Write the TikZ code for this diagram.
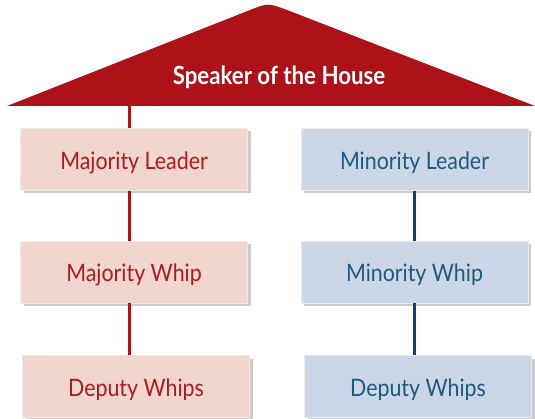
\documentclass[tikz,border=0pt]{standalone}
\usepackage{fontspec}
\setmainfont[FakeStretch=0.89]{Lato}
\usetikzlibrary{shadows}
\definecolor{roofred}{HTML}{AC1218}
\definecolor{redtxt}{HTML}{AE1A22}
\definecolor{pinkbox}{HTML}{F0D6CC}
\definecolor{bluebox}{HTML}{CBD7E6}
\definecolor{bluetxt}{HTML}{1D5A7F}
\definecolor{blueline}{HTML}{0E4570}
\tikzset{
  boxbase/.style={minimum width=227pt, minimum height=62pt, inner sep=0pt, draw=black!8, line width=0.8pt,
    font=\fontsize{24}{28}\selectfont, text height=20pt, text depth=0.8pt,
    drop shadow={shadow xshift=3pt, shadow yshift=-3pt, fill=black, opacity=0.2}},
  redbox/.style={boxbase, fill=pinkbox, text=redtxt},
  bluebox/.style={boxbase, fill=bluebox, text=bluetxt},
  redlink/.style={draw=roofred, line width=3pt},
  bluelink/.style={draw=blueline, line width=3pt},
}
\begin{document}
\begin{tikzpicture}[x=1pt,y=-1pt]
\useasboundingbox (0,0) rectangle (535,419);
\fill[roofred] (7,106) -- (250,10) .. controls (268,3) .. (286,9.6) -- (535,106) -- cycle;
\node[text=white, font=\bfseries\fontsize{25}{30}\selectfont] (speaker) at (279,77) {Speaker of the House};
\coordinate (roofbase) at (129,106);
\node[redbox] (majl) at (134,159.5) {Majority Leader};
\node[redbox] (majw) at (134,272) {Majority Whip};
\node[redbox] (majd) at (136,386.5) {Deputy Whips};
\node[bluebox] (minl) at (414.5,159.5) {Minority Leader};
\node[bluebox] (minw) at (414.5,272) {Minority Whip};
\node[bluebox] (mind) at (418,386.5) {Deputy Whips};
\draw[redlink] (roofbase) -- (roofbase |- majl.north);
\draw[redlink] (majl.south -| roofbase) -- (majw.north -| roofbase);
\draw[redlink] (majw.south -| roofbase) -- (majd.north -| roofbase);
\draw[bluelink] (minl.south) -- (minw.north);
\draw[bluelink] (minw.south) -- (minw.south |- mind.north);
\end{tikzpicture}
\end{document}
